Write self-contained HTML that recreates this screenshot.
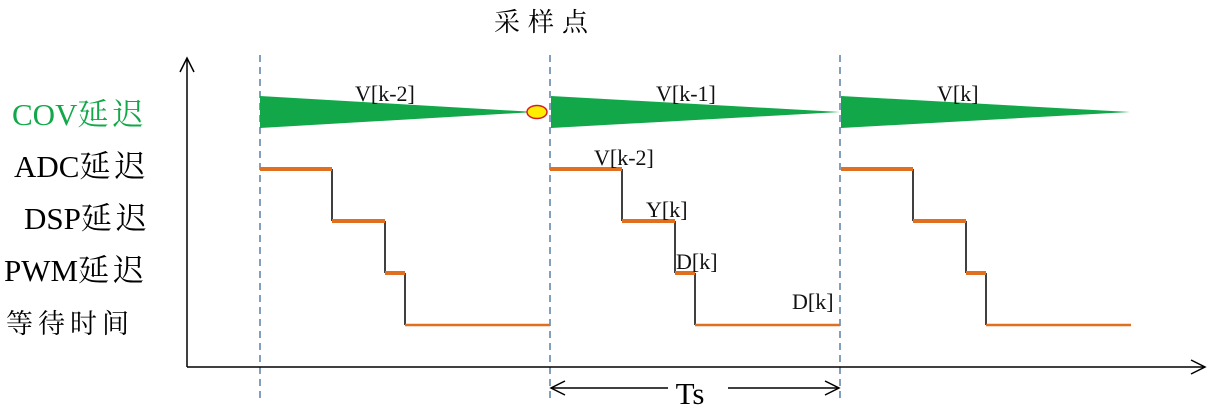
<!DOCTYPE html>
<html><head><meta charset="utf-8"><style>
html,body{margin:0;padding:0;background:#fff;}
svg{display:block;}
text{font-family:"Liberation Serif","Noto Serif CJK SC",serif;}
</style></head><body>
<svg width="1208" height="411" viewBox="0 0 1208 411" xmlns="http://www.w3.org/2000/svg">
<g stroke="#5b7fa8" stroke-width="1.5" stroke-dasharray="7,5">
<line x1="260" y1="55" x2="260" y2="398"/>
<line x1="550" y1="55" x2="550" y2="398"/>
<line x1="840" y1="55" x2="840" y2="398"/>
</g>
<g stroke="#000" stroke-width="1.5" fill="none">
<line x1="187" y1="58" x2="187" y2="367"/>
<polyline points="180,72 187,58 194,72"/>
<line x1="187" y1="367" x2="1205" y2="367"/>
<polyline points="1191,360 1205,367 1191,374"/>
<line x1="551" y1="388" x2="668" y2="388"/>
<line x1="728" y1="388" x2="839" y2="388"/>
<polyline points="565,381 551,388 565,395"/>
<polyline points="825,381 839,388 825,395"/>
</g>
<g fill="#12a84a">
<polygon points="260,96 535,112 260,128"/>
<polygon points="551,96 840,112 551,128"/>
<polygon points="841,96 1130,112 841,128"/>
</g>
<ellipse cx="537" cy="112" rx="10" ry="6.5" fill="#ffee00" stroke="#d42020" stroke-width="1.5"/>
<g id="s">
<g stroke="#000" stroke-width="1.5">
<line x1="332" y1="169" x2="332" y2="221"/>
<line x1="385" y1="221" x2="385" y2="273"/>
<line x1="405" y1="273" x2="405" y2="325"/>
</g>
<g stroke="#e07020">
<line x1="260" y1="169" x2="332" y2="169" stroke-width="4"/>
<line x1="332" y1="221" x2="385" y2="221" stroke-width="4"/>
<line x1="385" y1="273" x2="405" y2="273" stroke-width="4"/>
<line x1="405" y1="325" x2="550" y2="325" stroke-width="2.5"/>
</g>
</g>
<use href="#s" x="290"/>
<use href="#s" x="581"/>
<g font-size="22" fill="#111">
<text x="355" y="101">V[k-2]</text>
<text x="656" y="101">V[k-1]</text>
<text x="937" y="101">V[k]</text>
<text x="594" y="165">V[k-2]</text>
<text x="646" y="217">Y[k]</text>
<text x="676" y="269">D[k]</text>
<text x="792" y="309">D[k]</text>
</g>
<text x="690" y="404" font-size="31" text-anchor="middle">Ts</text>
<text x="494" y="31" font-size="26" letter-spacing="8">采样点</text>
<text x="12" y="125" font-size="31" fill="#12a84a">COV<tspan letter-spacing="4">延迟</tspan></text>
<text x="14" y="177" font-size="31">ADC<tspan letter-spacing="4">延迟</tspan></text>
<text x="24" y="229" font-size="31">DSP<tspan letter-spacing="4">延迟</tspan></text>
<text x="4" y="281" font-size="31">PWM<tspan letter-spacing="4">延迟</tspan></text>
<text x="6" y="333" font-size="27" letter-spacing="5">等待时间</text>
</svg>
</body></html>
